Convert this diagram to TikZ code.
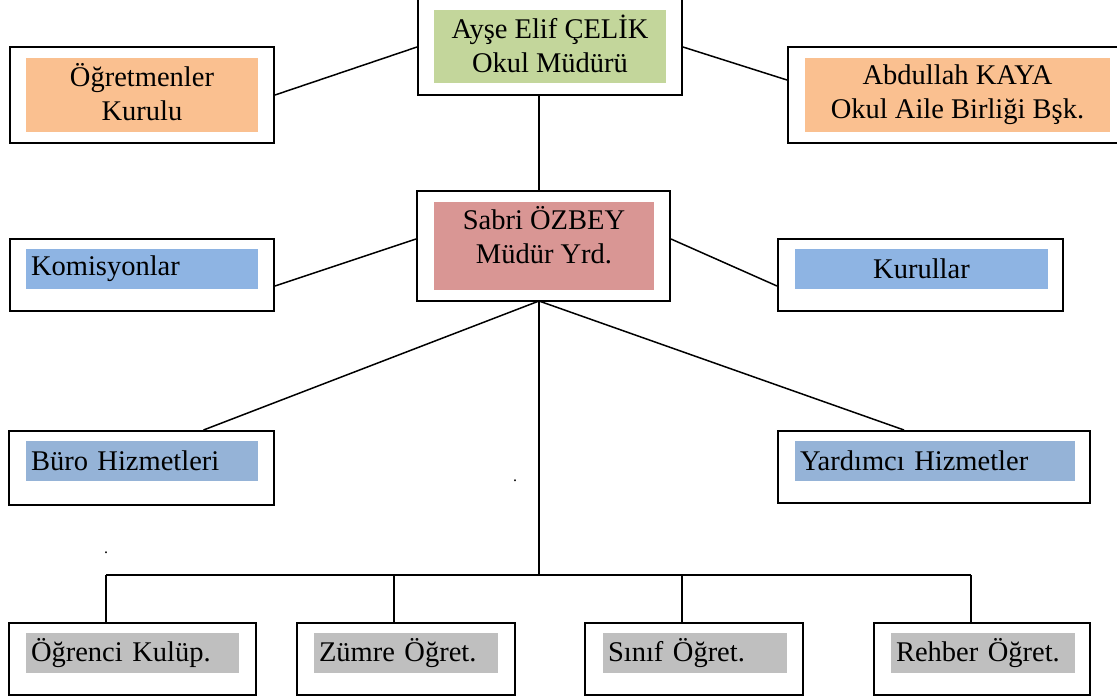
\documentclass[tikz,border=0pt]{standalone}
\usepackage{fontspec}
\setmainfont{Liberation Serif}
\definecolor{yesil}{HTML}{C3D69B}
\definecolor{turuncu}{HTML}{FAC090}
\definecolor{pembe}{HTML}{D99694}
\definecolor{mavi}{HTML}{8EB4E3}
\definecolor{gokmavi}{HTML}{95B3D7}
\definecolor{gri}{HTML}{BFBFBF}
\newcommand{\yz}{\fontsize{28.5}{34}\selectfont}
\newcommand{\nk}{\fontsize{16}{18}\selectfont}
\newcommand{\alt}{\vphantom{y}}

\begin{document}
\begin{tikzpicture}[x=1pt,y=-1pt,font=\yz,
   kutu/.style={draw,line width=2pt,fill=white,inner sep=0pt},
   bant/.style={inner sep=0pt,align=center},
   solbant/.style={inner sep=0pt,inner xsep=5pt,align=left,text width=#1},
   hat/.style={line width=1.5pt}]
   \useasboundingbox (0,0) rectangle (1117,699);
   \node[kutu,minimum width=264,minimum height=100] (ayse)   at ( 550,  45) {};
   \node[kutu,minimum width=264,minimum height= 96] (ogrt)   at ( 142,  95) {};
   \node[kutu,minimum width=338,minimum height= 96] (abd)    at ( 957,  95) {};
   \node[kutu,minimum width=253,minimum height=110] (sabri)  at ( 543.5,246) {};
   \node[kutu,minimum width=264,minimum height= 72] (kom)    at ( 142, 275) {};
   \node[kutu,minimum width=285,minimum height= 72] (kur)    at ( 920.5,275) {};
   \node[kutu,minimum width=265,minimum height= 74] (buro)   at ( 141.5,468) {};
   \node[kutu,minimum width=312,minimum height= 72] (yard)   at ( 934, 467) {};
   \node[kutu,minimum width=247,minimum height= 72] (ogrk)   at ( 132.5,659) {};
   \node[kutu,minimum width=218,minimum height= 72] (zumre)  at ( 406, 659) {};
   \node[kutu,minimum width=218,minimum height= 72] (sinif)  at ( 694, 659) {};
   \node[kutu,minimum width=216,minimum height= 72] (rehber) at ( 982, 659) {};
   \node[bant,fill=yesil,  minimum width=232,minimum height=73] (aysebant)  at ( 550,  46.5) {Ayşe Elif ÇELİK\\Okul Müdürü\alt};
   \node[bant,fill=turuncu,minimum width=232,minimum height=74] (ogrtbant)  at ( 142,  95) {Öğretmenler\\Kurulu\alt};
   \node[bant,fill=turuncu,minimum width=305,minimum height=74] (abdbant)   at ( 957.5, 95) {Abdullah KAYA\\Okul Aile Birliği Bşk.\alt};
   \node[bant,fill=pembe,  minimum width=220,minimum height=88] (sabribant) at ( 544, 246) {};
   \node[bant]                                                  (sabriyazi) at ( 544, 235) {Sabri ÖZBEY\\Müdür Yrd.};
   \node[solbant=222,fill=mavi,   minimum height=40] (kombant)    at ( 142, 269) {Komisyonlar};
   \node[bant,fill=mavi,minimum width=253,minimum height=40] (kurbant) at ( 921.5,269) {Kurullar};
   \node[solbant=222,fill=gokmavi,minimum height=40] (burobant)   at ( 142, 461) {Büro Hizmetleri};
   \node[solbant=270,fill=gokmavi,minimum height=40] (yardbant)   at ( 935, 461) {Yardımcı Hizmetler};
   \node[solbant=203,fill=gri,    minimum height=40] (ogrkbant)   at ( 132.5,653) {Öğrenci Kulüp.};
   \node[solbant=174,fill=gri,    minimum height=40] (zumrebant)  at ( 406, 653) {Zümre Öğret.};
   \node[solbant=174,fill=gri,    minimum height=40] (sinifbant)  at ( 695, 653) {Sınıf Öğret.};
   \node[solbant=174,fill=gri,    minimum height=40] (rehberbant) at ( 983, 653) {Rehber Öğret.};
   \node[font=\nk,anchor=base,inner sep=0pt] (nokta1) at ( 515, 481) {.};
   \node[font=\nk,anchor=base,inner sep=0pt] (nokta2) at ( 106, 553) {.};
   \coordinate (govde) at ( 539, 301);
   \coordinate (bara)  at ( 539, 575);
   \coordinate (b1)    at ( 106, 575);
   \coordinate (b2)    at ( 394, 575);
   \coordinate (b3)    at ( 682, 575);
   \coordinate (b4)    at ( 971, 575);
   \draw[hat] (ogrt.east) -- ([yshift=-2pt]ayse.west);
   \draw[hat] ([yshift=-2pt]ayse.east) -- ([yshift=15pt]abd.west);
   \draw[hat] (govde |- ayse.south) -- (govde |- sabri.north);
   \draw[hat] ([yshift=-11pt]kom.east) -- ([yshift=7pt]sabri.west);
   \draw[hat] ([yshift=7pt]sabri.east) -- ([yshift=-11pt]kur.west);
   \draw[hat] ([xshift=62pt]buro.north) -- (govde);
   \draw[hat] ([xshift=-30pt]yard.north) -- (govde);
   \draw[hat] (govde) -- (bara);
   \draw[hat] (b1) -- (b4);
   \draw[hat] (b1) -- (b1 |- ogrk.north);
   \draw[hat] (b2) -- (b2 |- zumre.north);
   \draw[hat] (b3) -- (b3 |- sinif.north);
   \draw[hat] (b4) -- (b4 |- rehber.north);
\end{tikzpicture}
\end{document}
